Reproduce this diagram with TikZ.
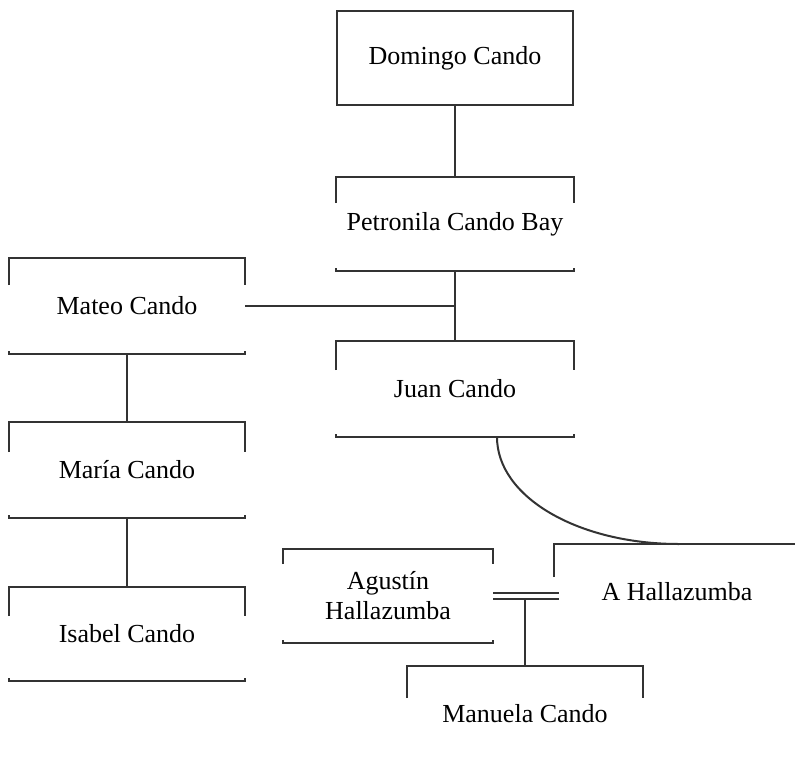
\documentclass[tikz,border=0pt]{standalone}
\usepackage{fontspec}
\setmainfont{Liberation Serif}
\newcommand{\topbrk}[2]{\draw ([yshift=-#2pt]#1.north west) |- (#1.north east) -- ([yshift=-#2pt]#1.north east);}
\newcommand{\botbrk}[1]{\draw ([yshift=3pt]#1.south west) |- (#1.south east) -- ([yshift=3pt]#1.south east);}
\begin{document}
\begin{tikzpicture}[x=1pt,y=-1pt,line width=2pt,draw=black!80,
  person/.style={minimum width=234pt,minimum height=94pt,inner sep=0pt,align=center,font=\fontsize{26}{30}\selectfont}]
\useasboundingbox (0,0) rectangle (795,761);

\node[person,draw,minimum width=236pt] (domingo) at (455,58) {Domingo Cando};
\node[person,minimum width=236pt,minimum height=92pt] (petronila) at (455,224) {Petronila Cando Bay};
\node[person] (mateo) at (127,306) {Mateo Cando};
\node[person,minimum width=236pt] (juan) at (455,389) {Juan Cando};
\node[person] (maria) at (127,470) {María Cando};
\node[person,minimum height=92pt] (isabel) at (127,634) {Isabel Cando};
\node[person,minimum width=208pt,minimum height=92pt] (agustin) at (388,596) {Agustín\\Hallazumba};
\node[person,minimum width=244pt] (ahalla) at (677,592) {A Hallazumba};
\node[person] (manuela) at (525,714) {Manuela Cando};

\topbrk{petronila}{26} \botbrk{petronila}
\topbrk{mateo}{27} \botbrk{mateo}
\topbrk{juan}{29} \botbrk{juan}
\topbrk{maria}{30} \botbrk{maria}
\topbrk{isabel}{29} \botbrk{isabel}
\topbrk{agustin}{15} \botbrk{agustin}
\topbrk{ahalla}{33}
\topbrk{manuela}{32}

\draw (domingo.south) -- (petronila.north);
\draw (petronila.south) -- (juan.north);
\draw (mateo.east) -- (mateo.east -| juan.north);
\draw (mateo.south) -- (maria.north);
\draw (maria.south) -- (isabel.north);

\coordinate (juanfoot) at ([xshift=42pt]juan.south);
\coordinate (ahtop) at ([xshift=125pt]ahalla.north west);
\draw (juanfoot) .. controls ([yshift=-60pt]juanfoot) and ([xshift=-101pt]ahtop) .. (ahtop);

\draw (agustin.east -| manuela.north) -- (manuela.north);
\draw[double,double distance=4pt] (agustin.east) -- ([xshift=5pt]agustin.east -| ahalla.west);
\end{tikzpicture}
\end{document}
